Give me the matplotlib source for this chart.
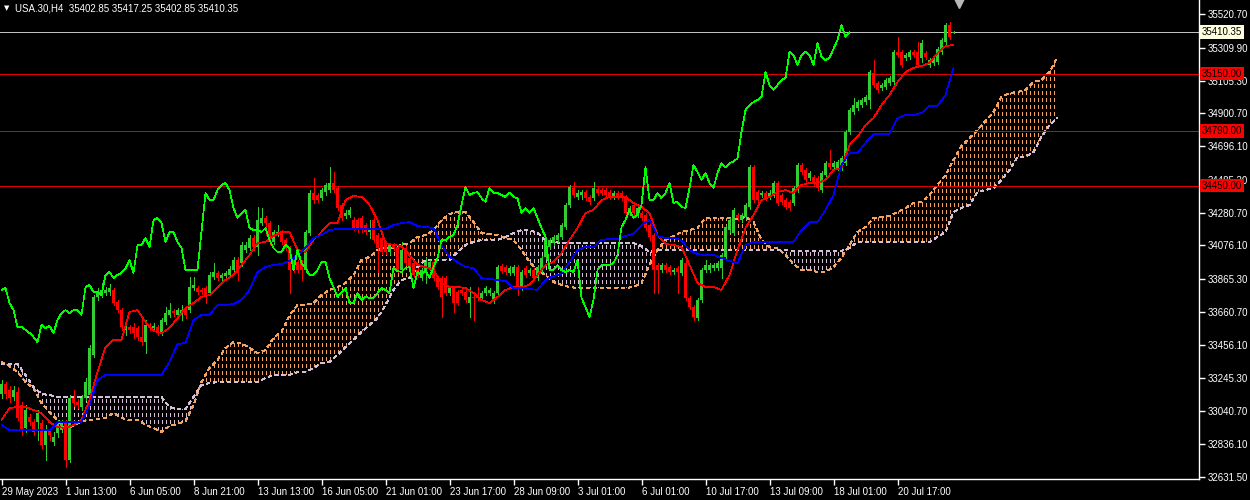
import numpy as np
import matplotlib
matplotlib.use("Agg")
import matplotlib.pyplot as plt
from matplotlib.path import Path

plt.rcParams['font.family'] = ['Liberation Sans', 'DejaVu Sans']

# USA.30 H4 candles
opens = [
    33148, 33210, 33172, 33129, 33160, 33079, 32935, 33004, 32972, 32972,
    32966, 32829, 32922, 32848, 32904, 32922, 32966, 32735, 33122, 33098,
    33066, 33122, 33141, 33391, 33754, 33779, 33779, 33785, 33798, 33722,
    33672, 33548, 33566, 33566, 33560, 33504, 33472, 33579, 33560, 33566,
    33529, 33598, 33641, 33666, 33641, 33654, 33672, 33672, 33810, 33810,
    33798, 33810, 33779, 33879, 33904, 33872, 33885, 33891, 33922, 33985,
    33966, 34048, 34060, 34122, 34066, 34216, 34248, 34216, 34098, 34141,
    34160, 34110, 34060, 33985, 33972, 33972, 33922, 34154, 34404, 34391,
    34372, 34410, 34422, 34466, 34435, 34329, 34260, 34266, 34235, 34235,
    34248, 34204, 34160, 34235, 34141, 34122, 34091, 34035, 34079, 34066,
    33922, 34060, 33998, 33966, 33922, 33872, 33904, 33935, 33972, 33872,
    33872, 33872, 33779, 33810, 33785, 33798, 33785, 33716, 33754, 33754,
    33748, 33779, 33779, 33735, 33779, 33948, 33941, 33904, 33904, 33941,
    33810, 33935, 33904, 33922, 33872, 33922, 34004, 34066, 34091, 34110,
    34129, 34191, 34329, 34435, 34379, 34391, 34410, 34379, 34372, 34429,
    34422, 34422, 34410, 34379, 34404, 34404, 34379, 34279, 34329, 34266,
    34279, 34266, 34204, 34141, 33954, 33922, 33954, 33941, 33910, 33935,
    33904, 33966, 33748, 33691, 33622, 33735, 33922, 33922, 33935, 33935,
    33935, 34004, 34172, 34154, 34266, 34235, 34254, 34316, 34566, 34410,
    34391, 34404, 34379, 34391, 34466, 34391, 34360, 34348, 34341, 34422,
    34579, 34548, 34498, 34504, 34498, 34422, 34516, 34591, 34566, 34560,
    34560, 34591, 34785, 34910, 34935, 34954, 34972, 34985, 35154, 35091,
    35060, 35066, 35091, 35098, 35285, 35285, 35248, 35254, 35285, 35285,
    35248, 35279, 35204, 35216, 35222, 35285, 35348, 35454, 35402.85]
highs = [
    33235, 33222, 33198, 33198, 33191, 33098, 33079, 33022, 32991, 33048,
    32985, 32954, 32935, 32910, 32985, 32985, 32985, 33141, 33172, 33116,
    33141, 33248, 33454, 33766, 33810, 33841, 33816, 33835, 33810, 33735,
    33685, 33579, 33579, 33591, 33572, 33629, 33610, 33591, 33591, 33579,
    33622, 33691, 33716, 33679, 33685, 33704, 33685, 33879, 33879, 33822,
    33810, 33822, 33910, 33966, 33916, 33904, 33916, 33948, 34004, 34004,
    34098, 34098, 34141, 34141, 34316, 34310, 34260, 34229, 34172, 34204,
    34172, 34122, 34072, 33998, 33985, 33985, 34172, 34422, 34498, 34404,
    34435, 34466, 34566, 34535, 34448, 34341, 34298, 34316, 34254, 34248,
    34260, 34216, 34235, 34248, 34154, 34135, 34104, 34091, 34091, 34079,
    34098, 34072, 34010, 33979, 33935, 33935, 34004, 33985, 33985, 33885,
    33885, 33885, 33822, 33822, 33798, 33810, 33798, 33816, 33766, 33816,
    33791, 33822, 33810, 33791, 33954, 33960, 33954, 33948, 33954, 33954,
    33922, 33948, 33935, 33935, 33954, 34010, 34129, 34122, 34141, 34154,
    34216, 34341, 34454, 34472, 34422, 34422, 34422, 34391, 34472, 34441,
    34435, 34435, 34422, 34416, 34416, 34416, 34391, 34322, 34341, 34322,
    34291, 34279, 34216, 34154, 33966, 33966, 33966, 33954, 33935, 33948,
    33998, 33979, 33760, 33704, 33748, 33935, 33985, 33966, 33966, 33979,
    34029, 34204, 34248, 34310, 34279, 34279, 34341, 34579, 34579, 34422,
    34416, 34416, 34422, 34479, 34479, 34404, 34372, 34360, 34448, 34591,
    34591, 34560, 34541, 34516, 34510, 34541, 34604, 34672, 34604, 34610,
    34635, 34798, 34935, 34998, 34985, 34998, 35016, 35172, 35235, 35104,
    35091, 35122, 35135, 35298, 35379, 35298, 35279, 35298, 35298, 35348,
    35360, 35291, 35248, 35260, 35316, 35372, 35466, 35472, 35417.25]
lows = [
    33122, 33122, 33098, 33110, 32985, 32891, 32910, 32954, 32891, 32860,
    32810, 32735, 32860, 32829, 32879, 32910, 32691, 32722, 33072, 33060,
    33048, 33110, 33129, 33379, 33735, 33754, 33766, 33766, 33704, 33660,
    33548, 33516, 33529, 33498, 33485, 33454, 33404, 33548, 33548, 33516,
    33516, 33585, 33629, 33635, 33622, 33610, 33622, 33660, 33798, 33772,
    33772, 33716, 33766, 33866, 33860, 33860, 33872, 33879, 33910, 33860,
    33948, 34035, 34048, 34048, 34016, 34204, 34141, 34085, 34085, 34135,
    34085, 34048, 33779, 33910, 33910, 33860, 33910, 34141, 34341, 34348,
    34360, 34391, 34410, 34410, 34298, 34235, 34248, 34254, 34172, 34160,
    34160, 34148, 34122, 34098, 33910, 34022, 34022, 34022, 34048, 33910,
    33910, 33954, 33922, 33879, 33879, 33860, 33841, 33922, 33860, 33804,
    33629, 33766, 33766, 33660, 33704, 33766, 33722, 33629, 33610, 33735,
    33735, 33766, 33766, 33716, 33766, 33904, 33898, 33891, 33891, 33766,
    33798, 33879, 33891, 33860, 33860, 33910, 33991, 34054, 34079, 34098,
    34116, 34179, 34316, 34379, 34366, 34366, 34360, 34335, 34360, 34391,
    34391, 34379, 34366, 34366, 34366, 34360, 34266, 34266, 34266, 34254,
    34235, 34172, 34110, 33779, 33779, 33910, 33910, 33898, 33898, 33779,
    33891, 33735, 33679, 33610, 33610, 33722, 33910, 33910, 33922, 33922,
    33872, 33991, 34160, 34141, 34235, 34222, 34241, 34304, 34348, 34348,
    34379, 34360, 34366, 34379, 34329, 34335, 34304, 34298, 34329, 34410,
    34522, 34472, 34485, 34454, 34422, 34410, 34504, 34554, 34554, 34548,
    34548, 34579, 34772, 34898, 34922, 34941, 34960, 34935, 35066, 35035,
    35048, 35054, 35079, 35085, 35254, 35191, 35235, 35241, 35254, 35191,
    35222, 35241, 35191, 35204, 35210, 35272, 35335, 35366, 35402.85]
closes = [
    33210, 33148, 33122, 33172, 32998, 32922, 33048, 32972, 32910, 33029,
    32829, 32922, 32891, 32879, 32966, 32966, 32735, 33122, 33091, 33079,
    33122, 33222, 33435, 33754, 33779, 33798, 33798, 33810, 33716, 33672,
    33566, 33566, 33548, 33529, 33504, 33472, 33579, 33560, 33572, 33529,
    33610, 33654, 33672, 33654, 33672, 33672, 33641, 33816, 33829, 33785,
    33785, 33766, 33891, 33910, 33872, 33891, 33904, 33929, 33985, 33904,
    34079, 34079, 34122, 34066, 34235, 34248, 34216, 34098, 34160, 34160,
    34098, 34060, 33922, 33922, 33922, 33922, 34160, 34404, 34360, 34360,
    34422, 34454, 34466, 34422, 34310, 34248, 34279, 34298, 34185, 34172,
    34172, 34160, 34185, 34110, 34060, 34035, 34035, 34079, 34060, 33922,
    34048, 33966, 33935, 33891, 33891, 33922, 33972, 33972, 33872, 33816,
    33754, 33779, 33810, 33716, 33716, 33779, 33735, 33754, 33748, 33748,
    33779, 33810, 33798, 33779, 33941, 33916, 33910, 33935, 33941, 33810,
    33910, 33891, 33922, 33872, 33941, 33998, 34110, 34110, 34129, 34141,
    34204, 34329, 34441, 34391, 34404, 34410, 34372, 34348, 34435, 34404,
    34404, 34391, 34379, 34404, 34379, 34372, 34279, 34310, 34279, 34310,
    34248, 34185, 34129, 33922, 33922, 33954, 33922, 33910, 33922, 33910,
    33985, 33748, 33691, 33629, 33735, 33922, 33954, 33954, 33954, 33966,
    34016, 34191, 34235, 34298, 34248, 34266, 34329, 34566, 34360, 34360,
    34404, 34372, 34404, 34466, 34341, 34348, 34316, 34310, 34435, 34579,
    34535, 34485, 34529, 34466, 34435, 34529, 34591, 34566, 34591, 34598,
    34622, 34785, 34922, 34954, 34972, 34985, 35004, 35160, 35079, 35048,
    35079, 35110, 35122, 35285, 35266, 35204, 35266, 35285, 35266, 35204,
    35341, 35254, 35235, 35248, 35304, 35360, 35454, 35379, 35410.35]

# Ichimoku lines, one reading every 2 bars
tenkan = [
    32985, 33060, 33066, 33066, 33048, 33029, 32972, 32941, 32935, 32954,
    32985, 33110, 33285, 33441, 33485, 33485, 33660, 33672, 33598, 33541,
    33529, 33560, 33622, 33685, 33716, 33754, 33766, 33816, 33860, 33891,
    33954, 34016, 34091, 34098, 34135, 34160, 34160, 34048, 34035, 34110,
    34160, 34216, 34216, 34360, 34385, 34379, 34329, 34235, 34091, 34079,
    34072, 34016, 33954, 33941, 33922, 33841, 33816, 33816, 33810, 33779,
    33735, 33716, 33754, 33798, 33816, 33816, 33829, 33891, 33954, 33972,
    34029, 34110, 34185, 34279, 34298, 34360, 34379, 34379, 34379, 34341,
    34316, 34279, 34141, 34085, 34079, 34066, 33954, 33841, 33816, 33816,
    33798, 33891, 34048, 34185, 34266, 34360, 34379, 34410, 34422, 34404,
    34454, 34466, 34466, 34485, 34548, 34560, 34704, 34754, 34829, 34872,
    34954, 35016, 35098, 35160, 35185, 35198, 35216, 35279, 35322, 35329]
kijun = [
    32954, 32922, 32922, 32922, 32922, 32922, 32922, 32972, 32972, 32972,
    32972, 33079, 33235, 33266, 33266, 33266, 33266, 33266, 33266, 33266,
    33266, 33348, 33460, 33466, 33610, 33641, 33641, 33704, 33704, 33710,
    33735, 33798, 33910, 33941, 33954, 33960, 33979, 34016, 34060, 34122,
    34141, 34172, 34179, 34179, 34179, 34179, 34179, 34179, 34179, 34204,
    34216, 34222, 34198, 34191, 34185, 34079, 34004, 33972, 33941, 33935,
    33872, 33866, 33860, 33854, 33810, 33810, 33804, 33798, 33860, 33885,
    33898, 33972, 34048, 34066, 34066, 34110, 34116, 34116, 34135, 34148,
    34204, 34235, 34135, 34122, 34122, 34110, 34048, 34022, 34016, 34016,
    33998, 33979, 33966, 34079, 34098, 34098, 34098, 34098, 34098, 34098,
    34172, 34222, 34222, 34298, 34391, 34579, 34654, 34654, 34716, 34772,
    34772, 34772, 34872, 34891, 34891, 34904, 34948, 34948, 35016, 35185]

# cloud spans (already shifted 26 bars ahead), one reading every 2 bars
span_a = [
    33348, 33322, 33285, 33222, 33185, 33091, 33035, 32985, 32935, 32948,
    32979, 32985, 32991, 32998, 33029, 32998, 32985, 32985, 32954, 32935,
    32910, 32948, 32960, 32979, 33079, 33222, 33310, 33360, 33435, 33472,
    33466, 33435, 33404, 33422, 33498, 33535, 33641, 33704, 33704, 33716,
    33766, 33798, 33816, 33841, 33891, 33985, 34004, 34048, 34060, 34060,
    34079, 34091, 34129, 34141, 34172, 34235, 34272, 34285, 34285, 34222,
    34154, 34148, 34141, 34122, 34110, 34048, 33972, 33922, 33891, 33848,
    33829, 33816, 33810, 33810, 33810, 33810, 33810, 33810, 33810, 33816,
    33841, 33954, 34048, 34110, 34135, 34160, 34172, 34185, 34248, 34248,
    34248, 34248, 34241, 34254, 34222, 34110, 34066, 34060, 34016, 33960,
    33922, 33922, 33910, 33910, 33941, 33998, 34079, 34160, 34191, 34248,
    34254, 34260, 34285, 34310, 34341, 34348, 34391, 34454, 34516, 34610,
    34698, 34748, 34798, 34854, 34910, 35004, 35029, 35035, 35048, 35098,
    35110, 35160, 35254]
span_b = [
    33335, 33335, 33335, 33266, 33191, 33148, 33141, 33129, 33129, 33129,
    33129, 33129, 33129, 33129, 33129, 33129, 33129, 33129, 33129, 33129,
    33129, 33066, 33054, 33054, 33129, 33204, 33216, 33222, 33222, 33222,
    33222, 33222, 33222, 33248, 33266, 33266, 33266, 33285, 33285, 33310,
    33341, 33348, 33391, 33441, 33485, 33535, 33579, 33622, 33704, 33798,
    33860, 33872, 33941, 33985, 33985, 33985, 33985, 34035, 34079, 34098,
    34110, 34110, 34110, 34129, 34154, 34172, 34172, 34154, 34110, 34098,
    34091, 34091, 34091, 34091, 34091, 34091, 34091, 34091, 34091, 34091,
    34072, 34035, 34048, 34048, 34048, 34048, 34048, 34048, 34048, 34048,
    34048, 34048, 34048, 34048, 34048, 34048, 34048, 34048, 34048, 34041,
    34041, 34041, 34041, 34041, 34041, 34041, 34060, 34098, 34098, 34098,
    34098, 34098, 34098, 34098, 34098, 34098, 34098, 34129, 34160, 34285,
    34310, 34329, 34410, 34422, 34435, 34485, 34548, 34629, 34629, 34660,
    34754, 34829, 34872]

levels = [35150.00, 34790.00, 34450.00]
bid = 35410.35
price_ticks = [35520.70, 35309.90, 35105.30, 34900.70, 34696.10, 34485.30,
               34280.70, 34076.10, 33865.30, 33660.70, 33456.10, 33245.30,
               33040.70, 32836.10, 32631.50]
date_bars = [0, 16, 32, 48, 64, 80, 96, 112, 128, 144, 160, 176, 192, 208, 224]
date_labels = ["29 May 2023", "1 Jun 13:00", "6 Jun 05:00", "8 Jun 21:00",
               "13 Jun 13:00", "16 Jun 05:00", "21 Jun 01:00", "23 Jun 17:00",
               "28 Jun 09:00", "3 Jul 01:00", "6 Jul 01:00", "10 Jul 17:00",
               "13 Jul 09:00", "18 Jul 01:00", "20 Jul 17:00"]
header = "USA.30,H4  35402.85 35417.25 35402.85 35410.35"
shift = 26

BULL = '#32CD32'
BEAR = '#FF0000'
PX = 0.72   # one pixel in points
THIN = 0.5  # aliased one-pixel line
DASH = (0, (4.0, 3.0))

fig = plt.figure(figsize=(12.5, 5), dpi=100, facecolor='black')
ax = fig.add_axes([0, 21 / 500, 1199 / 1250, 479 / 500], facecolor='black')
ylo, yhi = 32616.25, 35610.0

# cloud: dotted vertical hatching between the two spans
sx = np.arange(len(span_a)) * 2
a = np.array(span_a, dtype=float)
b = np.array(span_b, dtype=float)
hx = np.arange(0, sx[-1] + 1)
for mask, col in [(a >= b, '#F4A460'), (a <= b, '#D8BFD8')]:
    poly = ax.fill_between(sx, a, b, where=mask, interpolate=True,
                           facecolor='none', edgecolor='none')
    paths = [p for p in poly.get_paths() if len(p.vertices) > 2]
    if not paths:
        continue
    clip = Path.make_compound_path(*paths)
    vl = ax.vlines(hx, ylo, yhi, colors=col, lw=PX, linestyles=DASH,
                   zorder=1, antialiased=False)
    vl.set_clip_path(clip, ax.transData)
ax.plot(sx, a, color='#F4A460', lw=PX, ls=DASH, zorder=1, antialiased=False)
ax.plot(sx, b, color='#D8BFD8', lw=PX, ls=DASH, zorder=1, antialiased=False)

# drawn levels and bid line
for lv in levels:
    ax.axhline(lv, color='#E00000', lw=THIN, zorder=2, antialiased=False)
ax.axhline(bid, color='#C0C0C0', lw=THIN, zorder=2, antialiased=False)

# candles
o = np.array(opens)
c = np.array(closes)
idx = np.arange(len(c))
cols = [BULL if cc >= oo else BEAR for oo, cc in zip(o, c)]
ax.vlines(idx, lows, highs, colors=cols, lw=THIN, zorder=3, antialiased=False)
ax.bar(idx, np.maximum(np.abs(c - o), 6), bottom=np.minimum(o, c),
       width=0.75, color=cols, lw=0, zorder=3, antialiased=False)

# tenkan, kijun, chikou
lx = np.arange(len(tenkan)) * 2
ax.plot(lx, tenkan, color='#FF0000', lw=THIN, zorder=4, antialiased=False)
ax.plot(lx, kijun, color='#0000FF', lw=THIN, zorder=4, antialiased=False)
ax.plot(idx[:-shift], c[shift:], color='#00FF00', lw=THIN, zorder=4,
        antialiased=False)

ax.set_xlim(-0.375, 299.375)
ax.set_ylim(ylo, yhi)

# axes
for s in ['top', 'left']:
    ax.spines[s].set_visible(False)
for s in ['right', 'bottom']:
    ax.spines[s].set_color('white')
    ax.spines[s].set_linewidth(1)
ax.yaxis.tick_right()
ax.set_yticks(price_ticks)
ax.set_yticklabels([f"{v:.2f}" for v in price_ticks])
ax.set_xticks(date_bars)
ax.set_xticklabels(date_labels, ha='left')
ax.tick_params(axis='y', colors='white', length=4, width=1, labelsize=7, pad=2)
ax.tick_params(axis='x', colors='white', length=4, width=1, labelsize=7, pad=2)
for t in ax.get_xticklabels() + ax.get_yticklabels():
    t.set_color('white')

# price tags on the scale (they cover the tick labels underneath, as in MT4)
def tag(val, face, txt_col):
    ax.annotate(f"{val:.2f}", xy=(1, val), xycoords=('axes fraction', 'data'),
                xytext=(1.8, 0), textcoords='offset points', ha='left',
                va='center', fontsize=7, color=txt_col, zorder=6,
                annotation_clip=False,
                bbox=dict(boxstyle='square,pad=0.18', fc=face, ec='none'))

for lv in levels:
    tag(lv, '#FF0000', 'black')
tag(bid, '#FFFFE0', 'black')

# header and chart-shift marker
fig.text(4 / 1250, 1 - 8.5 / 500, "\u25bc", color='white', fontsize=5,
         va='center', family=['DejaVu Sans'])
fig.text(15 / 1250, 1 - 8.5 / 500, header, color='white', fontsize=7, va='center')
ax.plot([239.3], [yhi - 6.25 * 3], marker='v', ms=7, color='#B8B8B8',
        clip_on=False, zorder=6, ls='none')

fig.savefig("out.png", dpi=100, facecolor='black')
